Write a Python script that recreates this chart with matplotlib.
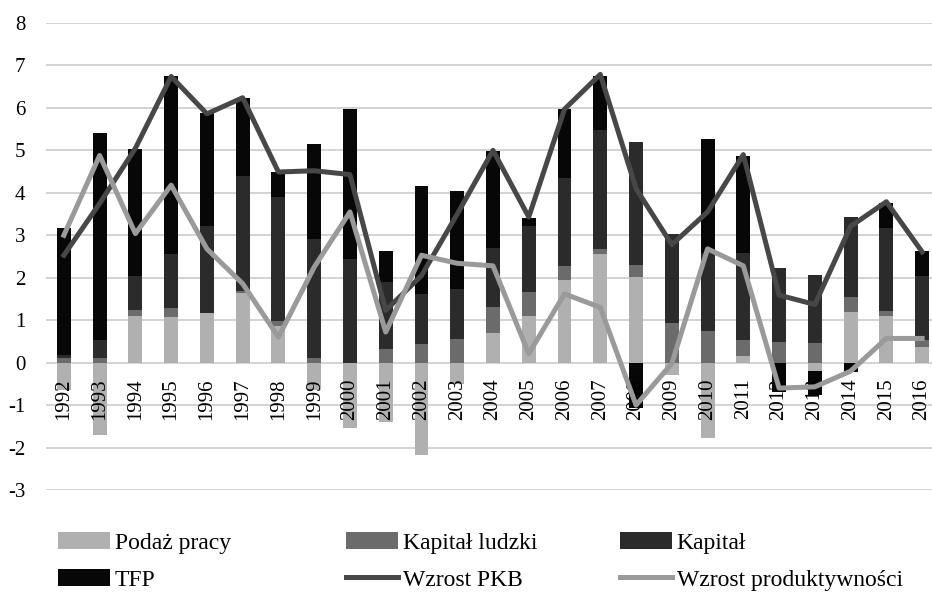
import matplotlib
matplotlib.use('Agg')
import matplotlib.pyplot as plt
import numpy as np

# data
years = [str(y) for y in range(1992, 2017)]
podaz = [-0.65, -1.71, 1.11, 1.08, 1.16, 1.65, 0.86, -0.65, -1.55, -1.40, -2.18, -0.50, 0.70,
         1.11, 1.94, 2.55, 2.02, -0.30, -1.77, 0.16, 0.00, -0.19, 1.19, 1.09, 0.37]
kapital_ludzki = [0.12, 0.12, 0.13, 0.20, 0.02, 0.03, 0.12, 0.12, 0.00, 0.33, 0.43, 0.55, 0.60,
                  0.55, 0.33, 0.13, 0.27, 0.94, 0.75, 0.38, 0.49, 0.47, 0.35, 0.12, 0.17]
kapital = [0.05, 0.41, 0.79, 1.27, 2.04, 2.71, 2.93, 2.80, 2.45, 1.57, 1.19, 1.18, 1.41,
           1.57, 2.09, 2.81, 2.90, 2.10, 1.84, 2.04, 1.73, 1.59, 1.88, 1.97, 1.51]
tfp = [3.00, 4.87, 3.01, 4.19, 2.65, 1.85, 0.59, 2.22, 3.53, 0.74, 2.54, 2.32, 2.27,
       0.17, 1.61, 1.27, -1.08, 0.00, 2.68, 2.29, -0.69, -0.58, -0.22, 0.57, 0.57]
wzrost_pkb = [2.53, 3.75, 5.05, 6.74, 5.86, 6.24, 4.49, 4.52, 4.43, 1.23, 2.05, 3.50, 5.00,
              3.43, 5.97, 6.79, 4.10, 2.78, 3.55, 4.90, 1.59, 1.37, 3.21, 3.79, 2.61]
wzrost_prod = [3.00, 4.88, 3.04, 4.18, 2.68, 1.86, 0.60, 2.25, 3.55, 0.72, 2.53, 2.34, 2.28,
               0.21, 1.62, 1.30, -1.00, -0.02, 2.68, 2.28, -0.60, -0.57, -0.20, 0.57, 0.57]

plt.rcParams['font.family'] = ['Liberation Serif', 'DejaVu Serif']
plt.rcParams['axes.unicode_minus'] = False

fig = plt.figure(figsize=(9.32, 5.94), dpi=100)
ax = fig.add_axes([46 / 932, 1 - 490 / 594, 894 / 932, 467 / 594])

x = np.arange(len(years))
pos = np.zeros(len(years))
neg = np.zeros(len(years))
series = [(podaz, '#b0b0b0', 'Podaż pracy'),
          (kapital_ludzki, '#6b6b6b', 'Kapitał ludzki'),
          (kapital, '#2b2b2b', 'Kapitał'),
          (tfp, '#070707', 'TFP')]
handles = []
for vals, col, lab in series:
    v = np.array(vals)
    bottom = np.where(v >= 0, pos, neg)
    b = ax.bar(x, v, 0.39, bottom=bottom, color=col, label=lab, zorder=2)
    handles.append(b)
    pos = pos + np.where(v >= 0, v, 0)
    neg = neg + np.where(v < 0, v, 0)

l1, = ax.plot(x, wzrost_pkb, color='#474747', lw=3.6, label='Wzrost PKB', zorder=4,
              solid_joinstyle='round')
l2, = ax.plot(x, wzrost_prod, color='#9a9a9a', lw=3.6, label='Wzrost produktywności', zorder=4,
              solid_joinstyle='round')

# category labels sit just under the zero line
for i, lab in enumerate(years):
    ax.text(i, -0.37, lab, rotation=90, ha='center', va='top', fontsize=15, zorder=3)

ax.set_xlim(-0.5, len(years) - 0.5)
ax.set_ylim(-3, 8)
ax.set_yticks(range(-3, 9))
ax.set_xticks([])
ax.yaxis.grid(True, color='#d0d0d0', lw=1.3)
ax.set_axisbelow(True)
for s in ax.spines.values():
    s.set_visible(False)
ax.tick_params(axis='y', length=0, pad=15, labelsize=15)

# legend: three equal-width columns, two rows
columns = [(handles[0], handles[3], 58), (handles[1], l1, 346), (handles[2], l2, 620)]
for h1, h2, xpx in columns:
    fig.legend(handles=[h1, h2], labels=[h1.get_label(), h2.get_label()], ncol=1,
               frameon=False, loc='upper left', bbox_to_anchor=(xpx / 932, 1 - 532 / 594),
               fontsize=17, handlelength=2.2, handletextpad=0.2, labelspacing=0.66,
               borderpad=0, borderaxespad=0)

fig.savefig('out.png', dpi=100)
